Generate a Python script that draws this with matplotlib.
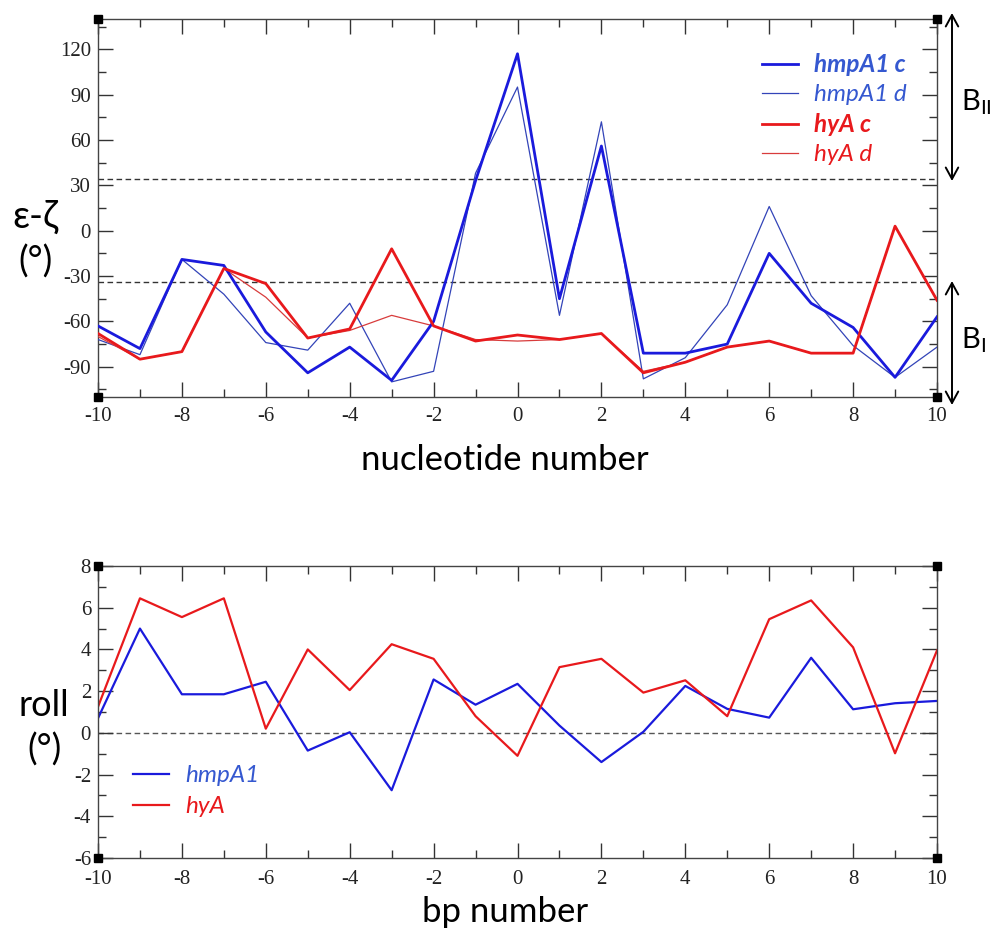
"""Backbone epsilon-zeta and roll profiles, xmgrace-style two-panel figure."""

import matplotlib

matplotlib.use("Agg")
import matplotlib.pyplot as plt  # noqa: E402
from matplotlib.ticker import MultipleLocator  # noqa: E402

# ---- data ---------------------------------------------------------------
nucleotide = list(range(-10, 11))

hmpA1_c = [-63, -78, -19, -23, -67, -94, -77, -99, -60, 33, 117,
           -45, 56, -81, -81, -75, -15, -48, -64, -97, -57]
hmpA1_d = [-72, -82, -19, -42, -74, -79, -48, -100, -93, 38, 95,
           -56, 72, -98, -84, -49, 16, -43, -76, -97, -77]
hyA_c = [-68, -85, -80, -25, -35, -71, -65, -12, -63, -73, -69,
         -72, -68, -94, -87, -77, -73, -81, -81, 3, -46]
hyA_d = [-70, -85, -80, -25, -44, -71, -66, -56, -63, -72, -73,
         -72, -68, -93, -87, -77, -73, -81, -81, 3, -46]

bp = list(range(-10, 11))
roll_hmpA1 = [0.7, 5.0, 1.85, 1.85, 2.45, -0.85, 0.03, -2.75, 2.56, 1.35, 2.35,
              0.35, -1.4, 0.05, 2.25, 1.15, 0.73, 3.6, 1.13, 1.42, 1.53]
roll_hyA = [1.25, 6.45, 5.55, 6.45, 0.2, 4.0, 2.05, 4.25, 3.55, 0.8, -1.1,
            3.15, 3.55, 1.93, 2.52, 0.8, 5.45, 6.35, 4.1, -0.98, 3.95]

BI_LIMIT = 34  # B_I / B_II boundary (deg)

BLUE = "#1a1adc"
BLUE_THIN = "#3344b8"
BLUE_TXT = "#3558d0"
RED = "#e8191c"
RED_THIN = "#d83c3c"

plt.rcParams.update(
    {
        "font.family": ["Liberation Serif", "DejaVu Serif"],
        "font.size": 15,
        "axes.unicode_minus": False,
        "xtick.direction": "in",
        "ytick.direction": "in",
        "xtick.top": True,
        "ytick.right": True,
        "xtick.major.size": 11,
        "ytick.major.size": 11,
        "xtick.minor.size": 5.5,
        "ytick.minor.size": 5.5,
        "xtick.major.width": 1.0,
        "ytick.major.width": 1.0,
        "xtick.minor.width": 1.0,
        "ytick.minor.width": 1.0,
        "xtick.color": "#333333",
        "ytick.color": "#333333",
        "xtick.labelcolor": "#222222",
        "ytick.labelcolor": "#222222",
        "axes.edgecolor": "#444444",
        "axes.linewidth": 1.0,
    }
)

SANS = ["Lato", "DejaVu Sans"]

fig = plt.figure(figsize=(9.97, 9.33), dpi=100)
W, H = 997.0, 933.0


def px(x, y):
    return x / W, 1 - y / H


ax1 = fig.add_axes([98 / W, 1 - 397 / H, 839 / W, 378 / H])
ax2 = fig.add_axes([98 / W, 1 - 858 / H, 839 / W, 292 / H])


def corners(ax):
    for cx in (0, 1):
        for cy in (0, 1):
            ax.plot(cx, cy, marker="s", ms=5.5, color="black",
                    transform=ax.transAxes, clip_on=False, zorder=10)


# ---- top panel ----------------------------------------------------------
ax1.plot(nucleotide, hmpA1_c, color=BLUE, lw=2.0, label="hmpA1 c", zorder=4)
ax1.plot(nucleotide, hmpA1_d, color=BLUE_THIN, lw=0.9, label="hmpA1 d", zorder=3)
ax1.plot(nucleotide, hyA_c, color=RED, lw=2.0, label="hyA c", zorder=4)
ax1.plot(nucleotide, hyA_d, color=RED_THIN, lw=0.9, label="hyA d", zorder=3)
for lvl in (BI_LIMIT, -BI_LIMIT):
    ax1.axhline(lvl, color="#333333", lw=1.0, ls=(0, (4, 2.5)), zorder=2)

ax1.set_xlim(-10, 10)
ax1.set_ylim(-110, 140)
ax1.xaxis.set_major_locator(MultipleLocator(2))
ax1.xaxis.set_minor_locator(MultipleLocator(1))
ax1.yaxis.set_minor_locator(MultipleLocator(15))
ax1.set_yticks([-90, -60, -30, 0, 30, 60, 90, 120])
ax1.tick_params(which="both", pad=5)
ax1.tick_params(axis="x", which="both", pad=7)
corners(ax1)

leg = ax1.legend(loc="upper left", bbox_to_anchor=(0.7914, 0.91), frameon=False,
                 borderpad=0, borderaxespad=0,
                 handlelength=1.5, handletextpad=0.65, labelspacing=0.33,
                 prop={"family": SANS, "size": 17.5})
styles = [("bold", BLUE_TXT), ("normal", BLUE_TXT), ("bold", RED), ("normal", RED)]
for txt, (wt, col) in zip(leg.get_texts(), styles):
    txt.set_color(col)
    txt.set_fontweight(wt)
    txt.set_fontstyle("italic")

fig.text(*px(35, 217), "ε-ζ", family=SANS, fontsize=27, ha="center", va="center")
fig.text(*px(35, 262), "(°)", family=SANS, fontsize=26, ha="center", va="center")
fig.text(*px(505, 460), "nucleotide number", family=SANS, fontsize=25,
         ha="center", va="center")

# B_II / B_I arrows
arrow = dict(arrowstyle="<->,head_length=0.55,head_width=0.3", color="black",
             lw=1.4, shrinkA=0, shrinkB=0)
ax1.annotate("", xy=px(952, 13), xytext=px(952, 181), xycoords="figure fraction",
             textcoords="figure fraction", arrowprops=arrow, annotation_clip=False)
ax1.annotate("", xy=px(952, 281), xytext=px(952, 405), xycoords="figure fraction",
             textcoords="figure fraction", arrowprops=arrow, annotation_clip=False)
fig.text(*px(961, 102), r"B$_{\mathregular{II}}$", family=SANS, fontsize=21,
         ha="left", va="center")
fig.text(*px(961, 340), r"B$_{\mathregular{I}}$", family=SANS, fontsize=21,
         ha="left", va="center")

# ---- bottom panel -------------------------------------------------------
ax2.plot(bp, roll_hmpA1, color=BLUE, lw=1.6, label="hmpA1")
ax2.plot(bp, roll_hyA, color=RED, lw=1.6, label="hyA")
ax2.axhline(0, color="#555555", lw=1.0, ls=(0, (4, 2.5)), zorder=1)
ax2.set_xlim(-10, 10)
ax2.set_ylim(-6, 8)
ax2.xaxis.set_major_locator(MultipleLocator(2))
ax2.xaxis.set_minor_locator(MultipleLocator(1))
ax2.yaxis.set_major_locator(MultipleLocator(2))
ax2.yaxis.set_minor_locator(MultipleLocator(1))
ax2.tick_params(which="both", pad=5)
ax2.tick_params(axis="x", which="both", pad=9)
corners(ax2)

leg2 = ax2.legend(loc="upper left", bbox_to_anchor=(0.0417, 0.318), frameon=False,
                  borderpad=0, borderaxespad=0,
                  handlelength=1.5, handletextpad=0.65, labelspacing=0.42,
                  prop={"family": SANS, "size": 17.5})
for txt, col in zip(leg2.get_texts(), (BLUE_TXT, RED)):
    txt.set_color(col)
    txt.set_fontstyle("italic")

fig.text(*px(44, 706), "roll", family=SANS, fontsize=26, ha="center", va="center")
fig.text(*px(44, 750), "(°)", family=SANS, fontsize=26, ha="center", va="center")
fig.text(*px(505, 912), "bp number", family=SANS, fontsize=25,
         ha="center", va="center")

fig.savefig("out.png", dpi=100, facecolor="white")
